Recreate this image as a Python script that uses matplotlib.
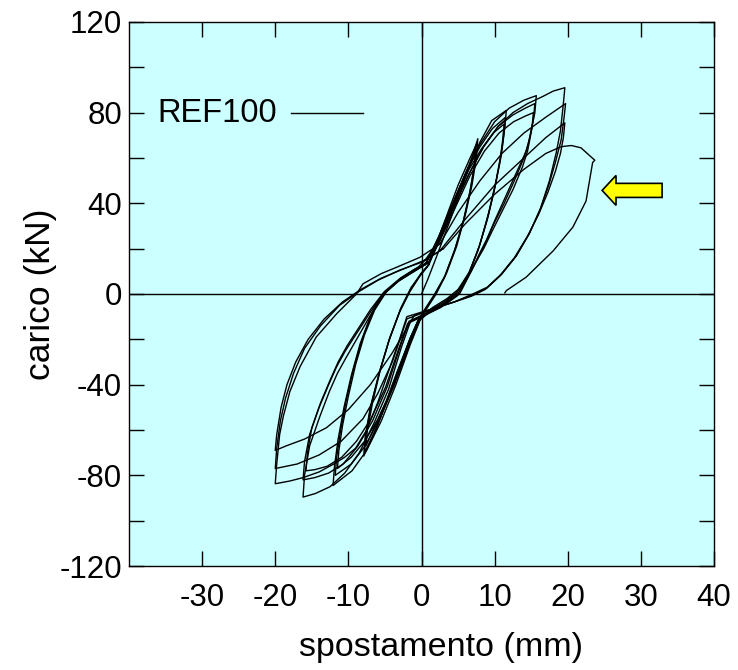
import matplotlib
matplotlib.use("Agg")
import matplotlib.pyplot as plt
from matplotlib.lines import Line2D
from matplotlib.patches import Polygon

plt.rcParams['font.family'] = ['Liberation Sans', 'DejaVu Sans']

# ---- data: hysteresis cycles (displacement mm, load kN) ----
# cycles at about +/-7.5 mm
a1_x = [0, 0.8, 2.0, 3.5, 5.0, 6.5, 7.7, 7.5, 6.9, 6.0, 4.8, 3.4, 2.0, 0.8, -0.3,
        -1.5, -3.0, -4.5, -6.0, -7.9, -7.7, -7.0, -5.8, -4.5, -3.0, -1.6, -0.2, 0.8]
a1_y = [0, 6, 16, 29, 42, 56, 68.5, 60, 48, 35, 21, 9, 0, -6, -11,
        -19, -32, -45, -58, -71.5, -63, -50, -35, -21, -8, 1, 8, 12]
a2_x = [0.8, 2.0, 3.5, 5.0, 6.5, 7.5, 7.3, 6.7, 5.8, 4.6, 3.2, 1.8, 0.6, -0.4,
        -1.6, -3.2, -4.8, -6.3, -7.8, -7.6, -6.9, -5.7, -4.4, -2.9, -1.5, -0.1, 1.0]
a2_y = [12, 22, 35, 48, 59, 66, 58, 46, 33, 20, 8, 0, -6, -11,
        -20, -34, -48, -60, -70, -62, -49, -34, -20, -7, 2, 9, 13]
a3_x = [1.0, 2.2, 3.7, 5.2, 6.5, 7.4, 7.2, 6.6, 5.7, 4.5, 3.1, 1.7, 0.5, -0.5,
        -1.7, -3.3, -4.8, -6.2, -7.6, -7.4, -6.7, -5.6, -4.3, -2.8, -1.4, 0.0, 1.0]
a3_y = [13, 23, 35, 47, 57, 64, 56, 45, 32, 19, 7, -1, -7, -12,
        -21, -34, -47, -57, -67, -60, -48, -33, -19, -6, 3, 9, 13]

# cycles at about +/-12 mm
b1_x = [1.0, 2.5, 4.5, 6.5, 8.0, 9.6, 11.6, 11.4, 11.0, 10.2, 9.2, 8.0, 6.6, 5.0, 3.5, 1.5, 0.0,
        -1.5, -3.5, -5.5, -7.5, -9.5, -12.1, -11.9, -11.4, -10.6, -9.6, -8.4, -7.0, -5.5, -3.5, -1.5, 0.5]
b1_y = [13, 24, 40, 56, 67, 76.5, 81, 74, 64, 50, 36, 22, 10, 2, -2, -6, -10,
        -22, -40, -56, -69, -78, -84.5, -76, -64, -50, -36, -22, -10, -1, 5, 9, 13]
b2_x = [0.5, 2.3, 4.3, 6.3, 8.0, 9.7, 11.5, 11.3, 10.9, 10.1, 9.1, 7.9, 6.5, 4.9, 3.3, 1.3, -0.2,
        -1.7, -3.7, -5.7, -7.7, -9.6, -11.8, -11.6, -11.1, -10.3, -9.3, -8.1, -6.7, -5.1, -3.1, -1.1, 0.7]
b2_y = [13, 25, 40, 55, 65, 73, 78, 71, 61, 48, 34, 21, 9, 1, -3, -7, -11,
        -23, -40, -55, -67, -75, -80, -72, -61, -47, -33, -20, -8, 0, 6, 10, 14]
b3_x = [0.7, 2.5, 4.5, 6.5, 8.2, 9.8, 11.3, 11.1, 10.7, 9.9, 8.9, 7.7, 6.3, 4.7, 3.1, 1.1, -0.4,
        -1.9, -3.9, -5.9, -7.8, -9.6, -11.5, -11.3, -10.8, -10.0, -9.0, -7.8, -6.4, -4.8, -2.8, -0.9, 0.5]
b3_y = [14, 26, 41, 55, 64, 71, 75, 68, 58, 45, 32, 19, 8, 0, -4, -8, -12,
        -24, -41, -55, -65, -72, -77, -69, -58, -45, -31, -18, -7, 1, 7, 11, 13]

# cycles at about +/-16 mm
c1_x = [0.5, 2.0, 4.0, 6.0, 8.0, 10.0, 12.0, 14.0, 15.7,
        15.5, 14.8, 14.3, 12.9, 11.5, 10.1, 8.9, 7.8, 6.8, 5.2, 3.0, 0.5, -1.5,
        -2.8, -4.5, -6.5, -8.5, -10.5, -12.5, -14.5, -16.2,
        -16.0, -15.3, -13.9, -12.6, -11.5, -10.3, -8.7, -7.1, -5.2, -3.0, -0.5, 1.0]
c1_y = [13, 22, 38, 53, 66, 76, 82, 85.5, 87.5,
        80, 69, 63, 53, 43, 33, 24, 17, 10, 0, -5, -9, -12,
        -24, -42, -57, -70, -79, -85, -88, -89.6,
        -80, -67, -54, -43, -35, -28, -19, -10, 0, 6, 11, 14]
c2_x = [1.0, 2.5, 4.5, 6.5, 8.5, 10.5, 12.5, 14.2, 15.5,
        15.3, 14.6, 14.0, 12.7, 11.3, 9.9, 8.7, 7.6, 6.6, 5.0, 2.8, 0.3, -1.7,
        -3.0, -4.7, -6.7, -8.7, -10.7, -12.7, -14.6, -16.2,
        -16.0, -15.3, -14.0, -12.7, -11.6, -10.4, -8.8, -7.2, -5.3, -3.1, -0.6, 1.0]
c2_y = [14, 24, 39, 53, 65, 74, 79, 82, 84,
        77, 66, 60, 50, 40, 31, 22, 15, 9, 0, -5, -9, -12,
        -24, -41, -56, -67, -75, -79, -81, -82,
        -74, -62, -50, -40, -32, -25, -17, -9, 0, 6, 11, 14]
c3_x = [1.0, 2.6, 4.6, 6.6, 8.6, 10.6, 12.6, 14.2, 15.3,
        15.1, 14.5, 13.8, 12.5, 11.1, 9.7, 8.5, 7.4, 6.4, 4.8, 2.6, 0.1, -1.9,
        -3.2, -4.9, -6.9, -8.9, -10.9, -12.9, -14.6, -15.8,
        -15.6, -15.0, -13.8, -12.5, -11.4, -10.2, -8.6, -7.0, -5.1, -2.9, -0.4, 0.5]
c3_y = [14, 24, 38, 52, 63, 71, 76, 78.5, 80,
        73, 63, 56, 46, 37, 28, 20, 14, 8, -1, -6, -10, -13,
        -25, -41, -55, -65, -72, -76, -77.5, -78,
        -70, -59, -48, -38, -30, -23, -15, -7, 1, 7, 12, 15]

# cycles at about +/-20 mm
d1_x = [0.5, 2.5, 4.5, 6.5, 8.5, 10.5, 12.5, 14.5, 16.5, 18.0, 19.6,
        19.4, 19.0, 18.4, 17.5, 16.3, 14.8, 13.0, 11.0, 9.0, 7.0, 4.5, 2.5, 0.0, -2.0,
        -3.0, -4.5, -6.0, -7.5, -9.0, -10.5, -12.0, -14.0, -16.2, -18.0, -20.0,
        -19.8, -19.4, -18.9, -18.0, -16.6, -14.4, -11.6, -8.9, -8.0, -5.5, -3.4, -0.2, 2.5]
d1_y = [15, 24, 39, 53, 65, 74, 80, 84, 87, 89.5, 91,
        84, 72, 62, 50, 38, 27, 17, 9, 3, 0, -3.5, -5.5, -8, -10,
        -20, -34, -48, -60, -68, -72, -75, -78.5, -81, -82.5, -83.7,
        -75, -62, -54, -43, -32, -19, -8.7, 0, 4.5, 9, 11.8, 16.2, 22]
d2_x = [2.5, 5.0, 8.0, 11.0, 14.0, 17.0, 19.7,
        19.5, 19.1, 18.3, 17.4, 16.2, 14.7, 12.9, 10.9, 8.9, 7.0, 4.5, 2.0, 0.0, -2.0,
        -4.0, -6.0, -8.0, -11.0, -14.0, -17.0, -20.0,
        -19.8, -19.3, -18.6, -17.5, -16.0, -13.8, -11.2, -8.6, -6.0, -3.0, 0.0, 2.5]
d2_y = [22, 36, 50, 62, 71, 78, 84,
        78, 68, 58, 48, 37, 26.5, 16.5, 8.5, 2.5, -0.5, -3.5, -6, -8.5, -11,
        -30, -44, -55, -65, -71, -75, -77,
        -68, -56, -46, -35, -24, -14, -5, 1, 6, 10.5, 14, 19]
d3_x = [2.5, 6.0, 10.0, 14.0, 17.0, 19.6,
        19.4, 19.0, 18.3, 17.3, 16.0, 14.5, 12.7, 10.7, 8.7, 6.8, 4.0, 1.5, -1.0,
        -4.0, -7.0, -10.0, -13.0, -16.0, -18.5, -20.0,
        -19.8, -19.2, -18.4, -17.2, -15.5, -13.3, -10.8, -8.3, -5.5, -2.5, 0.5, 3.0]
d3_y = [19, 33, 48, 60, 69, 75.5,
        69, 62, 54, 45, 35, 25.5, 16, 8, 2, -1, -4, -6.5, -9.5,
        -26, -40, -51, -59, -64, -67, -69,
        -62, -50, -40, -30, -20, -11, -3.5, 2, 7, 11, 15, 20]

# final half cycle (the one marked by the arrow)
f_x = [3.0, 6.0, 10.0, 14.0, 17.0, 19.1, 20.5, 21.8, 23.7,
       23.4, 22.5, 20.7, 18.0, 14.3, 11.6, 11.4]
f_y = [20, 31, 44, 55, 62, 65, 65.5, 64.5, 59,
       58, 41, 29.5, 19, 7.4, 1.5, 0.5]

cycles = [(a1_x, a1_y), (a2_x, a2_y), (a3_x, a3_y),
          (b1_x, b1_y), (b2_x, b2_y), (b3_x, b3_y),
          (c1_x, c1_y), (c2_x, c2_y), (c3_x, c3_y),
          (d1_x, d1_y), (d2_x, d2_y), (d3_x, d3_y),
          (f_x, f_y)]

x_ticks = [-30, -20, -10, 0, 10, 20, 30, 40]
y_ticks = [-120, -80, -40, 0, 40, 80, 120]
y_minor = [-100, -60, -20, 20, 60, 100]
legend_label = "REF100"

# ---- figure ----
fig = plt.figure(figsize=(7.38, 6.70), dpi=100)
ax = fig.add_axes([0.1748, 0.1552, 0.7927, 0.812])
ax.set_facecolor('#CCFFFF')

ax.axhline(0, color='black', lw=1.0, zorder=1)
ax.axvline(0, color='black', lw=1.0, zorder=1)

for cx, cy in cycles:
    ax.plot(cx, cy, color='black', lw=1.0, zorder=2)

ax.set_xlim(-40, 40)
ax.set_ylim(-120, 120)
ax.set_xticks(x_ticks)
ax.set_yticks(y_ticks)
ax.set_yticks(y_minor, minor=True)
ax.set_xticklabels([str(v) for v in x_ticks])
ax.set_yticklabels([str(v) for v in y_ticks])
ax.tick_params(which='both', direction='in', length=11, width=1.0,
               top=True, right=True, labelsize=22.5, pad=5, colors='black')
ax.tick_params(axis='x', pad=12)
for s in ax.spines.values():
    s.set_linewidth(1.0)
    s.set_color('black')

ax.set_xlabel('spostamento (mm)', fontsize=24.5, labelpad=14)
ax.xaxis.label.set_x(0.534)
ax.set_ylabel('carico (kN)', fontsize=25.5, labelpad=2)

# legend (text + line sample)
ax.text(0.049, 0.832, legend_label, transform=ax.transAxes, fontsize=23.5,
        va='center', ha='left')
ax.add_line(Line2D([0.277, 0.400], [0.8335, 0.8335], transform=ax.transAxes,
                   color='black', lw=1.0))

# yellow arrow pointing to the last cycle
arrow_pts = [(24.7, 45.7), (26.6, 52.3), (26.6, 48.8), (32.9, 48.8),
             (32.9, 42.6), (26.6, 42.6), (26.6, 39.1)]
ax.add_patch(Polygon(arrow_pts, closed=True, facecolor='#FFFF00',
                     edgecolor='black', lw=1.2, zorder=3))

fig.savefig('out.png', dpi=100)
